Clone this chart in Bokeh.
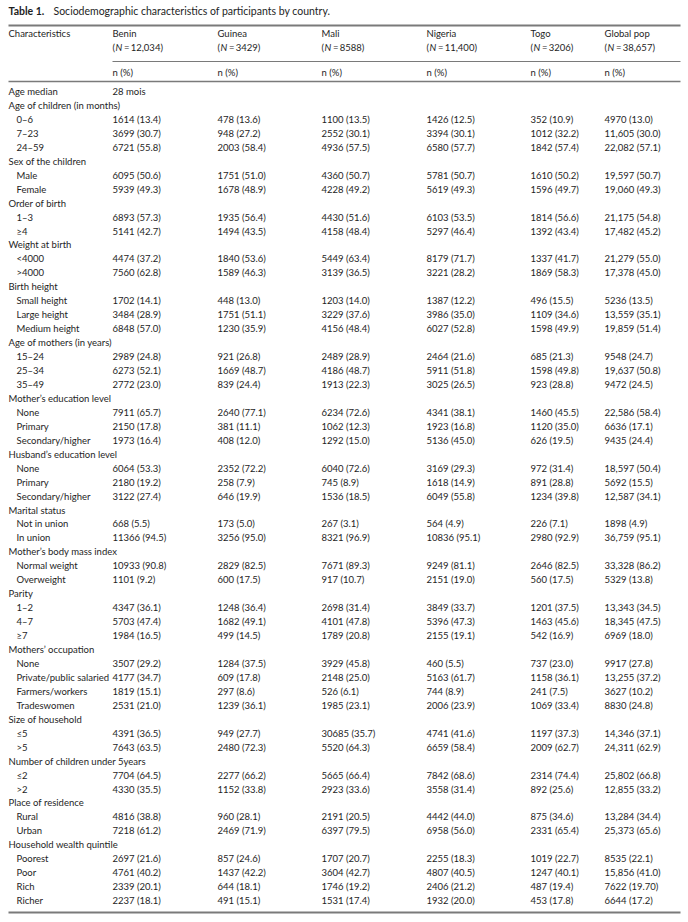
from bokeh.plotting import figure
from bokeh.models import Range1d, ColumnDataSource
from bokeh.core.properties import value
from bokeh.embed import file_html
from bokeh.resources import INLINE

title_bold = "Table 1."
title_rest = "Sociodemographic characteristics of participants by country."

countries = ["Benin", "Guinea", "Mali", "Nigeria", "Togo", "Global pop"]
country_n = ["12,034", "3429", "8588", "11,400", "3206", "38,657"]

row_labels = [
    "Age median", "Age of children (in months)", "0\u20136", "7\u201323", "24\u201359",
    "Sex of the children", "Male", "Female",
    "Order of birth", "1\u20133", "\u22654",
    "Weight at birth", "<4000", ">4000",
    "Birth height", "Small height", "Large height", "Medium height",
    "Age of mothers (in years)", "15\u201324", "25\u201334", "35\u201349",
    "Mother\u2019s education level", "None", "Primary", "Secondary/higher",
    "Husband\u2019s education level", "None", "Primary", "Secondary/higher",
    "Marital status", "Not in union", "In union",
    "Mother\u2019s body mass index", "Normal weight", "Overweight",
    "Parity", "1\u20132", "4\u20137", "\u22657",
    "Mothers\u2019 occupation", "None", "Private/public salaried", "Farmers/workers", "Tradeswomen",
    "Size of household", "\u22645", ">5",
    "Number of children under 5years", "\u22642", ">2",
    "Place of residence", "Rural", "Urban",
    "Household wealth quintile", "Poorest", "Poor", "Rich", "Richer",
]
row_indent = [
    0, 0, 1, 1, 1,
    0, 1, 1,
    0, 1, 1,
    0, 1, 1,
    0, 1, 1, 1,
    0, 1, 1, 1,
    0, 1, 1, 1,
    0, 1, 1, 1,
    0, 1, 1,
    0, 1, 1,
    0, 1, 1, 1,
    0, 1, 1, 1, 1,
    0, 1, 1,
    0, 1, 1,
    0, 1, 1,
    0, 1, 1, 1, 1,
]

benin = ["28 mois", "", "1614 (13.4)", "3699 (30.7)", "6721 (55.8)",
         "", "6095 (50.6)", "5939 (49.3)",
         "", "6893 (57.3)", "5141 (42.7)",
         "", "4474 (37.2)", "7560 (62.8)",
         "", "1702 (14.1)", "3484 (28.9)", "6848 (57.0)",
         "", "2989 (24.8)", "6273 (52.1)", "2772 (23.0)",
         "", "7911 (65.7)", "2150 (17.8)", "1973 (16.4)",
         "", "6064 (53.3)", "2180 (19.2)", "3122 (27.4)",
         "", "668 (5.5)", "11366 (94.5)",
         "", "10933 (90.8)", "1101 (9.2)",
         "", "4347 (36.1)", "5703 (47.4)", "1984 (16.5)",
         "", "3507 (29.2)", "4177 (34.7)", "1819 (15.1)", "2531 (21.0)",
         "", "4391 (36.5)", "7643 (63.5)",
         "", "7704 (64.5)", "4330 (35.5)",
         "", "4816 (38.8)", "7218 (61.2)",
         "", "2697 (21.6)", "4761 (40.2)", "2339 (20.1)", "2237 (18.1)"]

guinea = ["", "", "478 (13.6)", "948 (27.2)", "2003 (58.4)",
          "", "1751 (51.0)", "1678 (48.9)",
          "", "1935 (56.4)", "1494 (43.5)",
          "", "1840 (53.6)", "1589 (46.3)",
          "", "448 (13.0)", "1751 (51.1)", "1230 (35.9)",
          "", "921 (26.8)", "1669 (48.7)", "839 (24.4)",
          "", "2640 (77.1)", "381 (11.1)", "408 (12.0)",
          "", "2352 (72.2)", "258 (7.9)", "646 (19.9)",
          "", "173 (5.0)", "3256 (95.0)",
          "", "2829 (82.5)", "600 (17.5)",
          "", "1248 (36.4)", "1682 (49.1)", "499 (14.5)",
          "", "1284 (37.5)", "609 (17.8)", "297 (8.6)", "1239 (36.1)",
          "", "949 (27.7)", "2480 (72.3)",
          "", "2277 (66.2)", "1152 (33.8)",
          "", "960 (28.1)", "2469 (71.9)",
          "", "857 (24.6)", "1437 (42.2)", "644 (18.1)", "491 (15.1)"]

mali = ["", "", "1100 (13.5)", "2552 (30.1)", "4936 (57.5)",
        "", "4360 (50.7)", "4228 (49.2)",
        "", "4430 (51.6)", "4158 (48.4)",
        "", "5449 (63.4)", "3139 (36.5)",
        "", "1203 (14.0)", "3229 (37.6)", "4156 (48.4)",
        "", "2489 (28.9)", "4186 (48.7)", "1913 (22.3)",
        "", "6234 (72.6)", "1062 (12.3)", "1292 (15.0)",
        "", "6040 (72.6)", "745 (8.9)", "1536 (18.5)",
        "", "267 (3.1)", "8321 (96.9)",
        "", "7671 (89.3)", "917 (10.7)",
        "", "2698 (31.4)", "4101 (47.8)", "1789 (20.8)",
        "", "3929 (45.8)", "2148 (25.0)", "526 (6.1)", "1985 (23.1)",
        "", "30685 (35.7)", "5520 (64.3)",
        "", "5665 (66.4)", "2923 (33.6)",
        "", "2191 (20.5)", "6397 (79.5)",
        "", "1707 (20.7)", "3604 (42.7)", "1746 (19.2)", "1531 (17.4)"]

nigeria = ["", "", "1426 (12.5)", "3394 (30.1)", "6580 (57.7)",
           "", "5781 (50.7)", "5619 (49.3)",
           "", "6103 (53.5)", "5297 (46.4)",
           "", "8179 (71.7)", "3221 (28.2)",
           "", "1387 (12.2)", "3986 (35.0)", "6027 (52.8)",
           "", "2464 (21.6)", "5911 (51.8)", "3025 (26.5)",
           "", "4341 (38.1)", "1923 (16.8)", "5136 (45.0)",
           "", "3169 (29.3)", "1618 (14.9)", "6049 (55.8)",
           "", "564 (4.9)", "10836 (95.1)",
           "", "9249 (81.1)", "2151 (19.0)",
           "", "3849 (33.7)", "5396 (47.3)", "2155 (19.1)",
           "", "460 (5.5)", "5163 (61.7)", "744 (8.9)", "2006 (23.9)",
           "", "4741 (41.6)", "6659 (58.4)",
           "", "7842 (68.6)", "3558 (31.4)",
           "", "4442 (44.0)", "6958 (56.0)",
           "", "2255 (18.3)", "4807 (40.5)", "2406 (21.2)", "1932 (20.0)"]

togo = ["", "", "352 (10.9)", "1012 (32.2)", "1842 (57.4)",
        "", "1610 (50.2)", "1596 (49.7)",
        "", "1814 (56.6)", "1392 (43.4)",
        "", "1337 (41.7)", "1869 (58.3)",
        "", "496 (15.5)", "1109 (34.6)", "1598 (49.9)",
        "", "685 (21.3)", "1598 (49.8)", "923 (28.8)",
        "", "1460 (45.5)", "1120 (35.0)", "626 (19.5)",
        "", "972 (31.4)", "891 (28.8)", "1234 (39.8)",
        "", "226 (7.1)", "2980 (92.9)",
        "", "2646 (82.5)", "560 (17.5)",
        "", "1201 (37.5)", "1463 (45.6)", "542 (16.9)",
        "", "737 (23.0)", "1158 (36.1)", "241 (7.5)", "1069 (33.4)",
        "", "1197 (37.3)", "2009 (62.7)",
        "", "2314 (74.4)", "892 (25.6)",
        "", "875 (34.6)", "2331 (65.4)",
        "", "1019 (22.7)", "1247 (40.1)", "487 (19.4)", "453 (17.8)"]

global_pop = ["", "", "4970 (13.0)", "11,605 (30.0)", "22,082 (57.1)",
              "", "19,597 (50.7)", "19,060 (49.3)",
              "", "21,175 (54.8)", "17,482 (45.2)",
              "", "21,279 (55.0)", "17,378 (45.0)",
              "", "5236 (13.5)", "13,559 (35.1)", "19,859 (51.4)",
              "", "9548 (24.7)", "19,637 (50.8)", "9472 (24.5)",
              "", "22,586 (58.4)", "6636 (17.1)", "9435 (24.4)",
              "", "18,597 (50.4)", "5692 (15.5)", "12,587 (34.1)",
              "", "1898 (4.9)", "36,759 (95.1)",
              "", "33,328 (86.2)", "5329 (13.8)",
              "", "13,343 (34.5)", "18,345 (47.5)", "6969 (18.0)",
              "", "9917 (27.8)", "13,255 (37.2)", "3627 (10.2)", "8830 (24.8)",
              "", "14,346 (37.1)", "24,311 (62.9)",
              "", "25,802 (66.8)", "12,855 (33.2)",
              "", "13,284 (34.4)", "25,373 (65.6)",
              "", "8535 (22.1)", "15,856 (41.0)", "7622 (19.70)", "6644 (17.2)"]

# ---- layout (page pixel coordinates) ----
W, H = 688, 922
FONT = value("Lato")
FS = value("9.5px")
TXT = "#1e1e1e"
RULE = "#7a7a7a"

left_x = 8
indent_x = 16
col_x = [112, 217, 321, 426, 530, 604]
right_x = 680

title_y = 10
top_rule_y = 25
head1_y = 33
head2_y = 47
mid_rule_y = 61
npct_y = 72
sub_rule_y = 81
first_row_y = 91
row_h = 13.95
bottom_rule_y = 912

p = figure(width=W, height=H, x_range=Range1d(0, W), y_range=Range1d(H, 0),
           output_backend="svg", toolbar_location=None,
           x_axis_location=None, y_axis_location=None, min_border=0)
p.grid.visible = False
p.outline_line_color = None
p.background_fill_color = "white"
p.border_fill_color = "white"

# title
p.text(x=[left_x], y=[title_y], text=[title_bold], text_font=FONT, text_font_size=value("10.5px"),
       text_font_style="bold", text_baseline="middle", text_color=TXT)
p.text(x=[left_x + 45], y=[title_y], text=[title_rest], text_font=FONT, text_font_size=value("10.5px"),
       text_baseline="middle", text_color=TXT)

# rules
p.segment(x0=[left_x], y0=[top_rule_y], x1=[right_x], y1=[top_rule_y], line_color=RULE, line_width=2)
p.segment(x0=[col_x[0]], y0=[mid_rule_y], x1=[right_x], y1=[mid_rule_y], line_color=RULE, line_width=1)
p.segment(x0=[left_x], y0=[sub_rule_y], x1=[right_x], y1=[sub_rule_y], line_color=RULE, line_width=1.5)
p.segment(x0=[left_x], y0=[bottom_rule_y], x1=[right_x], y1=[bottom_rule_y], line_color=RULE, line_width=2)

# header
hx, hy, ht = [left_x], [head1_y], ["Characteristics"]
for i, c in enumerate(countries):
    hx += [col_x[i], col_x[i]]
    hy += [head1_y, npct_y]
    ht += [c, "n (%)"]
p.text(x="x", y="y", text="t", source=ColumnDataSource(dict(x=hx, y=hy, t=ht)),
       text_font=FONT, text_font_size=FS, text_baseline="middle", text_color=TXT)

# "(N = ...)" sub-header with italic N
paren_w, n_w = 3.1, 7.2
p.text(x=col_x, y=[head2_y] * len(col_x), text=["("] * len(col_x),
       text_font=FONT, text_font_size=FS, text_baseline="middle", text_color=TXT)
p.text(x=[c + paren_w for c in col_x], y=[head2_y] * len(col_x), text=["N"] * len(col_x),
       text_font=FONT, text_font_size=FS, text_font_style="italic", text_baseline="middle", text_color=TXT)
p.text(x=[c + paren_w + n_w for c in col_x], y=[head2_y] * len(col_x),
       text=["\u2009=\u2009" + n + ")" for n in country_n],
       text_font=FONT, text_font_size=FS, text_baseline="middle", text_color=TXT)

# body
bx, by, bt = [], [], []
for r, lab in enumerate(row_labels):
    y = first_row_y + r * row_h
    bx.append(indent_x if row_indent[r] else left_x)
    by.append(y)
    bt.append(lab)
    for i, col in enumerate([benin, guinea, mali, nigeria, togo, global_pop]):
        if col[r]:
            bx.append(col_x[i])
            by.append(y)
            bt.append(col[r])
p.text(x="x", y="y", text="t", source=ColumnDataSource(dict(x=bx, y=by, t=bt)),
       text_font=FONT, text_font_size=FS, text_baseline="middle", text_color=TXT)

open("out.html", "w").write(file_html(p, INLINE))
